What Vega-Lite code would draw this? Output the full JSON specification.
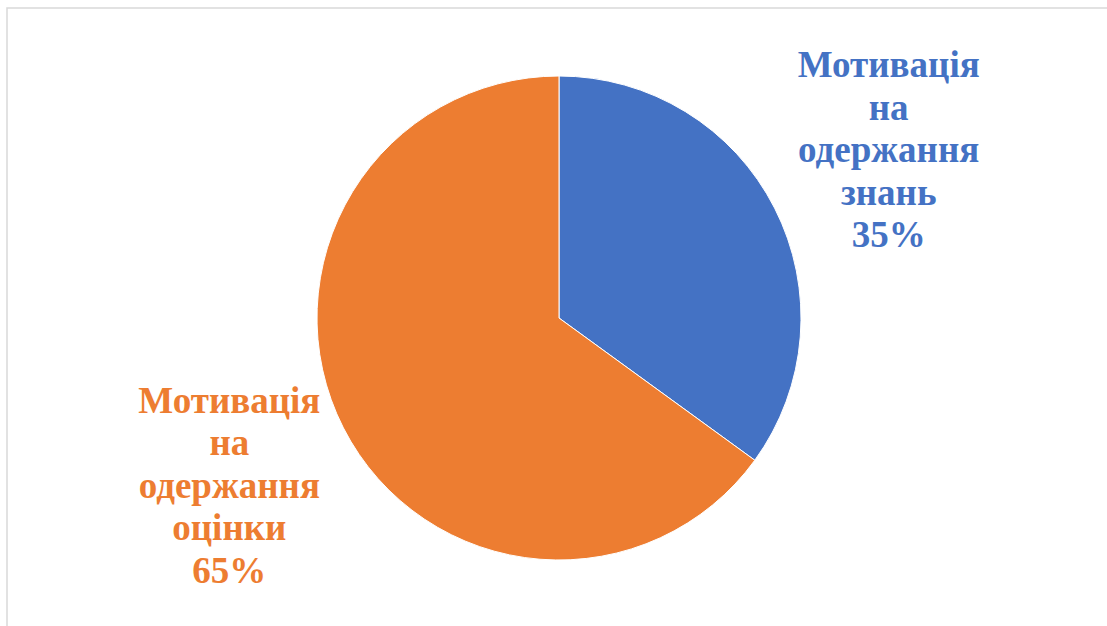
{
  "$schema": "https://vega.github.io/schema/vega-lite/v6.json",
  "autosize": {"type": "none"},
  "padding": {"left": 7, "top": 8, "right": 0, "bottom": 0},
  "width": 1104,
  "height": 620,
  "background": "white",
  "config": {"view": {"stroke": null}},
  "datasets": {
    "slices": [
      {"category": "знань", "value": 35, "label": "Мотивація\nна\nодержання\nзнань\n35%"},
      {"category": "оцінки", "value": 65, "label": "Мотивація\nна\nодержання\nоцінки\n65%"}
    ],
    "frame": [{"name": "frame"}]
  },
  "layer": [
    {
      "data": {"name": "frame"},
      "mark": {"type": "rect", "fill": null, "stroke": "#d9d9d9", "strokeWidth": 1.5},
      "encoding": {
        "x": {"value": 0},
        "y": {"value": 0},
        "x2": {"value": "width"},
        "y2": {"value": "height"}
      }
    },
    {
      "data": {"name": "slices"},
      "mark": {"type": "arc", "outerRadius": 242, "stroke": "white", "strokeWidth": 1},
      "encoding": {
        "theta": {"field": "value", "type": "quantitative", "stack": true},
        "color": {
          "field": "category",
          "type": "nominal",
          "scale": {"domain": ["знань", "оцінки"], "range": ["#4472C4", "#ED7D31"]},
          "legend": null
        },
        "order": {"field": "category", "type": "nominal", "sort": "ascending"}
      }
    },
    {
      "data": {"name": "slices"},
      "mark": {
        "type": "text",
        "radius": 370,
        "dy": -84,
        "font": "Liberation Serif",
        "fontWeight": "bold",
        "fontSize": 37,
        "lineBreak": "\n",
        "lineHeight": 42.5,
        "align": "center",
        "baseline": "middle"
      },
      "encoding": {
        "theta": {"field": "value", "type": "quantitative", "stack": true},
        "color": {
          "field": "category",
          "type": "nominal",
          "scale": {"domain": ["знань", "оцінки"], "range": ["#4472C4", "#ED7D31"]},
          "legend": null
        },
        "order": {"field": "category", "type": "nominal", "sort": "ascending"},
        "text": {"field": "label"}
      }
    }
  ]
}
